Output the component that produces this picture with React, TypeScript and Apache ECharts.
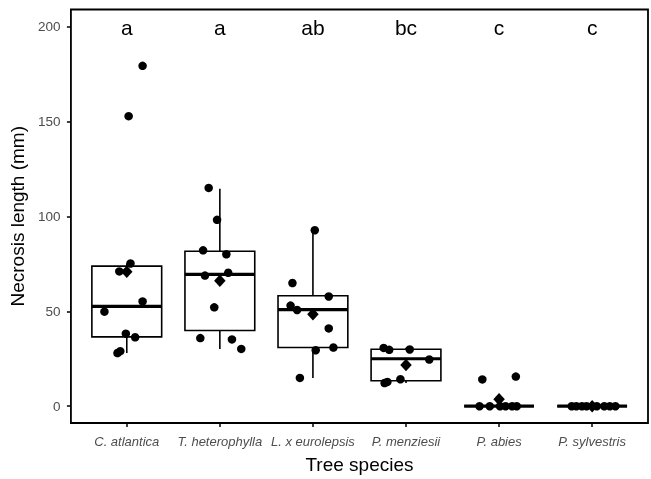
import React, { useEffect, useRef } from "react";
import * as echarts from "echarts";

const categories = ["C. atlantica", "T. heterophylla", "L. x eurolepsis", "P. menziesii", "P. abies", "P. sylvestris"];
const letters = ["a", "a", "ab", "bc", "c", "c"];
const letterLevel = 199.3;

// box statistics
const lowerWhisker = [28, 30.2, 14.9, 12.2, 0, 0];
const q1 = [36.5, 39.9, 30.9, 13.4, 0, 0];
const median = [52.6, 69.4, 50.9, 25, 0, 0];
const q3 = [73.8, 81.6, 58.2, 30, 0, 0];
const upperWhisker = [75.2, 114.6, 92.7, 30.7, 0, 0];
const means = [70.8, 66.1, 48.4, 21.7, 3.6, 0];

// individual observations (values) and their horizontal jitter (category units)
const valsAtlantica = [179.3, 152.8, 75.2, 71.0, 55.2, 49.8, 38.2, 36.3, 29, 28];
const jitAtlantica = [0.17, 0.02, 0.04, -0.08, 0.17, -0.24, -0.01, 0.09, -0.07, -0.1];
const valsHeterophylla = [115, 98.2, 82.1, 80, 70.3, 68.8, 52.1, 35.9, 35.2, 30.2];
const jitHeterophylla = [-0.12, -0.03, -0.18, 0.07, 0.09, -0.16, -0.06, -0.21, 0.13, 0.23];
const valsEurolepsis = [92.7, 64.9, 57.8, 53, 50.7, 41, 29.5, 30.9, 14.9];
const jitEurolepsis = [0.02, -0.22, 0.17, -0.24, -0.17, 0.17, 0.03, 0.22, -0.14];
const valsMenziesii = [30.7, 29.7, 29.9, 24.6, 12.2, 12.8, 14.2];
const jitMenziesii = [-0.24, -0.18, 0.04, 0.25, -0.23, -0.2, -0.06];
const valsAbies = [14.1, 15.6, 0, 0, 0, 0, 0, 0];
const jitAbies = [-0.18, 0.18, -0.21, -0.1, 0.01, 0.07, 0.14, 0.19];
const valsSylvestris = [0, 0, 0, 0, 0, 0, 0, 0];
const jitSylvestris = [-0.22, -0.17, -0.11, -0.06, 0.05, 0.13, 0.19, 0.25];

const yTicks = [0, 50, 100, 150, 200];
const xTicks = [0, 1, 2, 3, 4, 5];

export default function App() {
  const ref = useRef<HTMLDivElement>(null);
  useEffect(() => {
    if (!ref.current) return;
    const chart = echarts.init(ref.current, undefined, { renderer: "svg" });
    const groups = [
      [valsAtlantica, jitAtlantica],
      [valsHeterophylla, jitHeterophylla],
      [valsEurolepsis, jitEurolepsis],
      [valsMenziesii, jitMenziesii],
      [valsAbies, jitAbies],
      [valsSylvestris, jitSylvestris],
    ];
    const points: number[][] = [];
    groups.forEach(([vals, jit], i) => {
      vals.forEach((v, k) => points.push([i + jit[k], v]));
    });
    const boxData = categories.map((_, i) => [i, lowerWhisker[i], q1[i], median[i], q3[i], upperWhisker[i]]);
    const font = "'Liberation Sans', Arial, sans-serif";
    chart.setOption({
      animation: false,
      grid: { left: 70, right: 3, top: 9.5, height: 418.5, show: true, borderColor: "#000", borderWidth: 1.8, backgroundColor: "#fff" },
      xAxis: {
        type: "value",
        min: -0.6,
        max: 5.6,
        name: "Tree species",
        nameLocation: "middle",
        nameGap: 32,
        nameTextStyle: { fontFamily: font, fontSize: 19, color: "#000" },
        axisLine: { show: false, onZero: false },
        splitLine: { show: false },
        axisTick: { show: true, inside: false, length: 4, customValues: xTicks, lineStyle: { color: "#000", width: 1.5 } },
        axisLabel: {
          customValues: xTicks,
          formatter: (v: number) => categories[Math.round(v)],
          fontFamily: font,
          fontSize: 13,
          fontStyle: "italic",
          color: "#4d4d4d",
          margin: 12,
        },
      },
      yAxis: {
        type: "value",
        min: -8.85,
        max: 209,
        name: "Necrosis length (mm)",
        nameLocation: "middle",
        nameGap: 39,
        nameTextStyle: { fontFamily: font, fontSize: 19, color: "#000" },
        axisLine: { show: false, onZero: false },
        splitLine: { show: false },
        axisTick: { show: true, inside: false, length: 4, customValues: yTicks, lineStyle: { color: "#000", width: 1.5 } },
        axisLabel: { customValues: yTicks, fontFamily: font, fontSize: 13.5, color: "#4d4d4d", margin: 10.5 },
      },
      series: [
        {
          type: "custom",
          z: 1,
          encode: { x: 0, y: [1, 2, 3, 4, 5] },
          data: boxData,
          renderItem: (params: any, api: any) => {
            const x = api.value(0);
            const pLow = api.coord([x, api.value(1)]);
            const pQ1 = api.coord([x, api.value(2)]);
            const pMed = api.coord([x, api.value(3)]);
            const pQ3 = api.coord([x, api.value(4)]);
            const pHigh = api.coord([x, api.value(5)]);
            const w = api.size([0.75, 0])[0];
            const cx = pMed[0];
            const s = { stroke: "#000", lineWidth: 1.6 };
            return {
              type: "group",
              children: [
                { type: "line", shape: { x1: cx, y1: pHigh[1], x2: cx, y2: pQ3[1] }, style: s },
                { type: "line", shape: { x1: cx, y1: pQ1[1], x2: cx, y2: pLow[1] }, style: s },
                { type: "rect", shape: { x: cx - w / 2, y: pQ3[1], width: w, height: pQ1[1] - pQ3[1] }, style: { fill: "#fff", stroke: "#000", lineWidth: 1.6 } },
                { type: "line", shape: { x1: cx - w / 2, y1: pMed[1], x2: cx + w / 2, y2: pMed[1] }, style: { stroke: "#000", lineWidth: 3.2 } },
              ],
            };
          },
        },
        {
          type: "scatter",
          z: 2,
          symbol: "circle",
          symbolSize: 8.5,
          itemStyle: { color: "#000", opacity: 1 },
          data: points,
        },
        {
          type: "scatter",
          z: 3,
          symbol: "diamond",
          symbolSize: [11.5, 12.5],
          itemStyle: { color: "#000", opacity: 1 },
          data: means.map((m, i) => [i, m]),
        },
        {
          type: "scatter",
          z: 4,
          symbolSize: 0,
          itemStyle: { opacity: 1 },
          data: letters.map((_, i) => [i, letterLevel]),
          label: {
            show: true,
            position: "inside",
            formatter: (p: any) => letters[p.dataIndex],
            fontFamily: font,
            fontSize: 21,
            color: "#000",
            textBorderWidth: 0,
          },
        },
      ],
    });
    return () => chart.dispose();
  }, []);
  return <div ref={ref} style={{ position: "fixed", left: 0, top: 0, width: 651, height: 479 }} />;
}
